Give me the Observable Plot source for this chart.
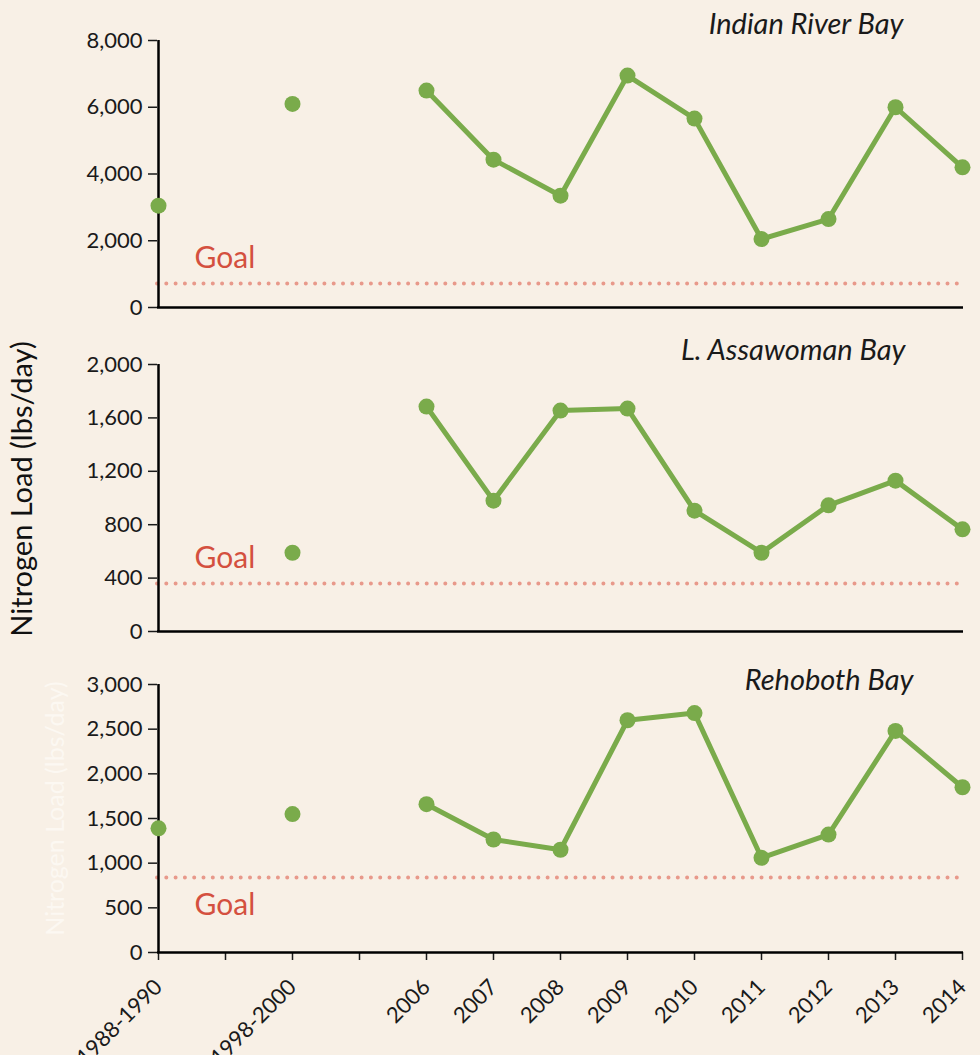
<!DOCTYPE html>
<html>
<head>
<meta charset="utf-8">
<script src="https://cdn.jsdelivr.net/npm/d3@7"></script>
<script src="https://cdn.jsdelivr.net/npm/@observablehq/plot@0.6"></script>
<style>
  html, body { margin: 0; padding: 0; background: #f8f0e6; }
  #chart svg { display: block; }
</style>
</head>
<body>
<div id="chart"></div>
<script>
// x categories (gap-* are empty slots on the axis)
const categories = ["1988-1990", "gap-a", "1998-2000", "gap-b", "2006", "2007", "2008", "2009", "2010", "2011", "2012", "2013", "2014"];
const annualYears = ["2006", "2007", "2008", "2009", "2010", "2011", "2012", "2013", "2014"];

// Nitrogen load (lbs/day)
const indianRiver = [3050, null, 6100, null, 6500, 4430, 3350, 6950, 5660, 2050, 2650, 6000, 4200];
const assawoman   = [null, null, 590, null, 1685, 980, 1655, 1670, 905, 590, 945, 1130, 765];
const rehoboth    = [1390, null, 1550, null, 1660, 1265, 1150, 2600, 2680, 1060, 1320, 2480, 1850];

const goals = [720, 360, 840];
const bayNames = ["Indian River Bay", "L. Assawoman Bay", "Rehoboth Bay"];
const yTicks1 = [0, 2000, 4000, 6000, 8000];
const yTicks2 = [0, 400, 800, 1200, 1600, 2000];
const yTicks3 = [0, 500, 1000, 1500, 2000, 2500, 3000];
const yLabel = "Nitrogen Load (lbs/day)";

const GREEN = "#7aab4b";
const GOAL_TEXT = "#d4503f";
const GOAL_DOTS = "#e8998b";
const BG = "#f8f0e6";
const FONT = "Lato, 'Open Sans', sans-serif";

function panel(o) {
  const rows = categories.map((c, i) => ({cat: c, v: o.values[i]})).filter(d => d.v != null);
  const lineRows = rows.filter(d => annualYears.includes(d.cat));
  const marks = [
    Plot.ruleY([o.goal], {stroke: GOAL_DOTS, strokeWidth: 4, strokeDasharray: "0 9.3", strokeLinecap: "round"}),
    Plot.text(["Goal"], {y: [o.goal], frameAnchor: "left", dx: 37, dy: o.goalDy, textAnchor: "start", fill: GOAL_TEXT, fontSize: 30}),
    Plot.axisY({ticks: o.ticks, tickFormat: d3.format(","), tickSize: 9, tickPadding: 6, fontSize: 22, strokeWidth: 1.5, label: null, color: "#1a1a1a"}),
    o.showX
      ? Plot.axisX({tickFormat: d => d.startsWith("gap") ? "" : d, tickSize: 8, tickPadding: 23, tickRotate: -45, fontSize: 22, strokeWidth: 1.5, label: null, color: "#1a1a1a"})
      : Plot.axisX({ticks: [], label: null}),
    Plot.ruleY([0], {stroke: "#000", strokeWidth: 2.5}),
    Plot.ruleX([categories[0]], {stroke: "#000", strokeWidth: 2.5}),
    Plot.line(lineRows, {x: "cat", y: "v", stroke: GREEN, strokeWidth: 5, strokeLinejoin: "round"}),
    Plot.dot(rows, {x: "cat", y: "v", r: 8, fill: GREEN, stroke: "none"}),
    Plot.text([o.title], {frameAnchor: "top-right", dx: o.titleDx, dy: o.titleDy, textAnchor: "end", lineAnchor: "middle", fontStyle: "italic", fontSize: 29, fill: "#1a1a1a"})
  ];
  if (o.yLabel) {
    marks.push(Plot.text([yLabel], {frameAnchor: "left", dx: o.yLabelDx, dy: o.yLabelDy || 0, rotate: -90, textAnchor: "middle", lineAnchor: "middle", fontSize: o.yLabelSize, fill: o.yLabelFill}));
  }
  return Plot.plot({
    width: 980,
    height: o.height,
    marginLeft: 157,
    marginRight: 17,
    marginTop: o.mt,
    marginBottom: o.mb,
    style: {background: BG, fontFamily: FONT, overflow: "visible"},
    x: {type: "point", domain: categories, padding: 0},
    y: {domain: [o.ticks[0], o.ticks[o.ticks.length - 1]]},
    marks
  });
}

const chart = document.getElementById("chart");
chart.append(panel({values: indianRiver, goal: goals[0], ticks: yTicks1, title: bayNames[0], titleDx: -60, titleDy: -16, goalDy: -25, showX: false, height: 325, mt: 40, mb: 18}));
chart.append(panel({values: assawoman, goal: goals[1], ticks: yTicks2, title: bayNames[1], titleDx: -58, titleDy: -14, goalDy: -25, showX: false, height: 325, mt: 39, mb: 19,
  yLabel: true, yLabelDx: -135, yLabelDy: -9, yLabelSize: 29, yLabelFill: "#111"}));
chart.append(panel({values: rehoboth, goal: goals[2], ticks: yTicks3, title: bayNames[2], titleDx: -50, titleDy: -4, goalDy: 28, showX: true, height: 405, mt: 34, mb: 103,
  yLabel: true, yLabelDx: -102, yLabelDy: -10, yLabelSize: 25, yLabelFill: "#fcf8f2"}));
</script>
</body>
</html>
